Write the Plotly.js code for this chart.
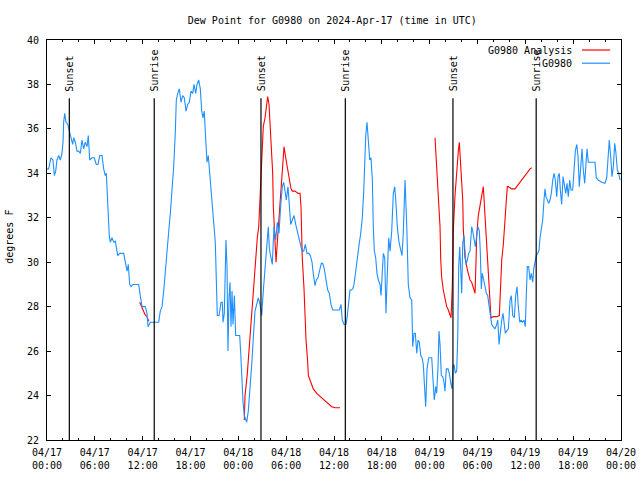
<!DOCTYPE html>
<html>
<head>
<meta charset="utf-8">
<script src="https://cdn.plot.ly/plotly-3.0.1.min.js"></script>
<style>html,body{margin:0;padding:0;background:#fff;}#chart{width:640px;height:480px;}</style>
</head>
<body>
<div id="chart"></div>
<script>
// Hours after 2024-04-17 00:00 UTC
const stationHours = [0.00,0.21,0.50,0.75,0.92,1.09,1.25,1.47,1.67,1.88,2.01,2.09,2.22,2.38,2.60,2.80,3.01,3.22,3.35,3.55,3.76,3.98,4.18,4.39,4.60,4.80,5.02,5.18,5.36,5.64,5.93,6.18,6.40,6.61,6.90,7.11,7.31,7.44,7.56,7.69,7.81,7.94,8.15,8.37,8.57,8.87,9.12,9.62,9.87,10.04,10.20,10.37,10.54,10.79,11.29,11.50,11.70,11.92,12.33,12.54,12.67,12.79,12.96,13.38,14.01,14.21,14.43,14.64,14.84,15.05,15.27,15.47,15.68,15.89,16.09,16.22,16.40,16.60,16.81,17.02,17.22,17.44,17.65,17.85,18.06,18.28,18.44,18.65,18.82,19.03,19.23,19.41,19.57,19.73,19.91,20.07,20.23,20.41,20.57,20.74,20.91,21.11,21.24,21.36,21.58,21.83,21.99,22.08,22.24,22.45,22.58,22.70,22.83,22.96,23.08,23.21,23.33,23.50,23.67,23.92,24.17,24.30,24.42,24.59,24.75,24.96,25.05,25.25,25.46,25.68,25.88,26.09,26.30,26.50,26.72,26.93,27.13,27.35,27.56,27.76,27.89,28.06,28.26,28.47,28.69,28.89,29.10,29.32,29.52,29.69,29.85,30.02,30.23,30.39,30.57,30.77,30.98,31.20,31.40,31.61,31.82,31.99,32.20,32.40,32.61,32.83,33.03,33.24,33.40,33.62,33.78,33.99,34.21,34.41,34.58,34.78,35.00,35.21,35.41,35.62,35.84,36.25,36.67,36.88,37.04,37.26,37.51,37.67,37.85,38.01,38.17,38.35,38.51,38.67,38.85,39.01,39.17,39.35,39.55,39.73,39.85,39.98,40.14,40.30,40.48,40.64,40.81,40.93,41.06,41.23,41.39,41.56,41.77,41.90,42.06,42.19,42.36,42.52,42.69,42.86,43.03,43.24,43.44,43.62,43.78,43.94,44.15,44.37,44.53,44.69,44.91,45.12,45.32,45.53,45.75,45.87,46.04,46.20,46.38,46.54,46.70,46.88,47.04,47.20,47.38,47.50,47.67,47.88,48.04,48.26,48.42,48.58,48.76,48.88,49.05,49.17,49.30,49.46,49.64,49.80,49.92,50.09,50.30,50.46,50.68,50.80,50.93,51.05,51.22,51.39,51.52,51.64,51.77,51.89,52.02,52.15,52.31,52.43,52.56,52.72,52.90,53.06,53.27,53.40,53.56,53.73,53.90,54.06,54.23,54.35,54.48,54.60,54.78,54.94,55.11,55.28,55.44,55.61,55.78,55.98,56.20,56.41,56.54,56.70,56.86,57.04,57.20,57.33,57.49,57.66,57.87,58.08,58.24,58.42,58.62,58.79,58.96,59.12,59.30,59.46,59.62,59.83,60.00,60.12,60.25,60.42,60.59,60.75,60.93,61.05,61.21,61.38,61.55,61.72,61.84,62.00,62.18,62.34,62.47,62.59,62.76,62.93,63.10,63.26,63.44,63.60,63.76,63.94,64.10,64.26,64.39,64.56,64.73,64.89,65.07,65.23,65.39,65.57,65.73,65.94,66.11,66.27,66.45,66.61,66.77,66.95,67.11,67.27,67.45,67.61,67.74,67.90,68.11,68.45,68.74,68.90,69.15,69.58,69.99,70.21,70.37,70.53,70.71,70.87,71.04,71.21,71.37,71.54,71.71,71.88];
const stationDewF = [34.2,34.2,34.7,34.6,33.9,34.1,34.6,34.8,34.6,34.9,35.4,36.3,36.7,36.3,36.2,35.9,35.6,35.3,35.6,35.4,35.0,35.0,34.9,35.5,35.1,35.4,35.2,35.7,34.6,34.7,34.7,34.4,34.4,34.8,34.8,34.2,33.9,34.0,33.1,31.9,31.2,30.9,31.1,30.9,30.95,30.3,30.4,30.4,29.8,29.6,29.9,29.0,28.9,29.0,29.0,29.0,28.5,28.0,28.0,27.7,27.1,27.2,27.3,27.3,27.3,27.8,28.0,28.7,29.7,30.6,31.4,32.2,33.2,34.3,35.8,37.3,37.6,37.8,37.2,37.5,37.4,36.8,37.1,37.2,37.7,37.6,38.0,37.6,38.0,38.2,37.8,36.8,36.5,36.8,35.5,34.5,34.8,34.0,33.3,32.7,32.0,30.9,29.2,27.6,27.6,28.2,28.2,27.3,27.7,31.0,29.8,26.0,28.4,29.1,27.1,28.7,27.2,28.5,26.7,26.7,26.7,25.9,24.6,23.7,23.1,22.8,22.8,23.3,24.2,25.4,26.6,27.8,28.1,28.4,28.1,27.6,28.7,29.6,30.7,31.6,30.6,30.3,29.9,31.6,31.0,31.8,31.3,32.6,33.4,33.6,33.1,32.8,33.4,32.5,31.7,31.9,32.1,31.7,31.4,31.1,30.8,30.5,30.5,30.8,30.4,30.4,30.3,30.0,29.5,28.95,29.2,29.3,29.65,29.95,29.95,29.7,29.2,28.75,28.6,28.1,27.85,27.85,27.85,28.1,27.4,27.2,27.2,27.6,28.2,28.75,28.75,28.8,29.0,29.5,29.95,30.4,30.85,31.3,32.0,33.2,34.5,35.7,36.3,35.6,34.6,34.7,33.7,31.6,30.5,30.2,29.5,29.2,29.0,28.5,29.5,30.4,30.2,27.7,29.5,31.1,30.5,31.4,33.1,33.4,32.6,31.6,30.9,30.6,30.3,31.3,33.7,31.7,29.0,28.4,28.3,26.2,26.8,26.8,25.9,26.5,26.4,25.8,25.7,25.4,24.5,23.5,25.2,25.7,25.7,25.7,24.7,23.8,24.4,24.1,25.3,26.9,26.3,24.9,24.85,24.6,24.2,25.2,25.2,25.0,24.5,24.3,25.3,25.4,25.0,25.1,26.6,29.8,30.7,29.8,28.6,30.85,31.2,30.5,29.9,30.1,30.4,30.5,31.6,31.4,31.0,30.7,31.2,31.6,31.4,30.5,28.8,29.5,29.2,28.9,28.6,28.5,28.0,27.5,27.2,27.1,27.0,27.2,27.4,26.3,27.0,27.4,27.7,27.1,26.8,26.9,27.0,28.3,28.5,27.6,27.5,28.5,28.9,28.0,27.3,27.4,27.3,27.4,27.1,28.5,29.8,29.8,29.2,29.5,29.1,29.7,30.1,30.3,30.4,30.55,31.1,31.5,31.9,32.8,33.3,32.95,32.8,32.65,32.8,33.1,33.7,34.0,33.7,32.95,33.85,34.0,33.25,32.6,33.85,33.55,33.1,33.55,32.95,33.7,33.25,33.25,34.3,35.0,35.3,34.75,33.4,34.45,35.1,34.15,33.55,34.45,35.1,34.5,34.5,34.5,34.5,33.8,33.7,33.6,33.55,33.8,34.9,35.5,34.75,33.85,34.3,35.35,34.9,34.15,34.0,33.7];

const analysisHours = [11.63,11.95,12.29,12.54,12.76,18.0,24.75,24.84,25.13,25.34,25.55,25.75,25.97,26.18,26.38,26.56,26.72,26.93,27.13,27.35,27.51,27.68,27.85,28.01,28.19,28.31,28.39,28.60,28.73,28.89,29.10,29.32,29.52,29.73,29.94,30.11,30.27,30.44,30.61,30.77,31.11,31.49,31.74,31.86,31.95,32.02,32.24,32.49,32.70,32.78,32.99,33.40,33.83,34.46,34.87,35.29,35.71,36.13,36.75,42.0,48.67,48.80,48.96,49.08,49.30,49.39,49.51,49.71,49.92,50.14,50.34,50.55,50.68,50.84,50.97,51.18,51.39,51.59,51.72,51.89,52.02,52.15,52.22,52.35,52.43,52.77,53.06,53.27,53.48,53.69,53.81,53.90,54.10,54.44,54.53,54.73,54.94,55.07,55.16,55.28,55.48,55.57,55.69,55.98,56.41,56.74,56.91,57.04,57.24,57.36,57.58,57.74,57.87,58.29,58.71,58.92,59.33,59.75,60.17,60.59,60.80];
const analysisDewF = [28.2,27.95,27.65,27.55,27.35,null,22.9,24.0,25.0,26.1,27.2,28.1,29.3,30.2,31.1,31.6,32.8,34.0,36.1,36.5,37.0,37.45,37.1,36.2,35.2,34.0,32.5,30.5,30.0,30.9,32.0,33.2,34.3,35.2,34.7,34.3,33.9,33.5,33.3,33.2,33.2,33.1,33.1,32.5,31.3,30.2,28.8,26.5,25.5,24.9,24.7,24.3,24.1,23.9,23.75,23.6,23.5,23.45,23.45,null,35.6,34.7,33.6,32.6,31.6,30.1,29.3,28.75,28.3,28.0,27.85,27.6,27.5,28.9,31.5,33.0,34.3,35.0,35.4,34.4,33.7,32.8,31.5,30.6,30.2,29.6,29.2,29.1,28.85,28.6,30.0,31.2,32.1,32.7,33.0,33.4,32.1,31.4,30.6,29.7,29.0,28.0,27.5,27.55,27.55,27.6,28.8,30.1,30.8,31.6,32.6,33.4,33.4,33.3,33.3,33.4,33.6,33.8,34.0,34.2,34.25];

const sunEventHours = [2.80,13.45,26.84,37.42,50.92,61.36];
const sunEventLabels = ["Sunset","Sunrise","Sunset","Sunrise","Sunset","Sunrise"];
const seriesNames = ["G0980 Analysis","G0980"];
const chartTitle = "Dew Point for G0980 on 2024-Apr-17 (time in UTC)";

const START = Date.UTC(2024,3,17,0,0,0);
function toTime(h){ return new Date(START + Math.round(h*3600000)).toISOString().replace('T',' ').slice(0,19); }

const RED = '#ff0000', BLUE = '#1e90ff';
const FONT = {family:'DejaVu Sans Mono, Liberation Mono, monospace', size:10, color:'#000'};

const traces = [
  {x: analysisHours.map(toTime), y: analysisDewF, type:'scatter', mode:'lines', name:seriesNames[0],
   line:{color:RED, width:1.1}, connectgaps:false, showlegend:false},
  {x: stationHours.map(toTime), y: stationDewF, type:'scatter', mode:'lines', name:seriesNames[1],
   line:{color:BLUE, width:1.1}, showlegend:false}
];

const shapes = [];
const annotations = [];
sunEventHours.forEach((h,i)=>{
  shapes.push({type:'line', xref:'x', yref:'y', x0:toTime(h), x1:toTime(h), y0:22, y1:37.38,
    line:{color:'#000', width:1.2}});
  annotations.push({xref:'x', yref:'y', x:toTime(h), y:37.6, text:sunEventLabels[i], textangle:-90,
    showarrow:false, xanchor:'center', yanchor:'bottom', font:FONT});
});
// gnuplot-style legend (text left, sample line right)
const legendY = [0.975, 0.942];
const legendColors = [RED, BLUE];
seriesNames.forEach((n,i)=>{
  annotations.push({xref:'paper', yref:'paper', x:0.918, y:legendY[i], text:n, showarrow:false,
    xanchor:'right', yanchor:'middle', font:FONT});
  shapes.push({type:'line', xref:'paper', yref:'paper', x0:0.932, x1:0.981, y0:legendY[i], y1:legendY[i],
    line:{color:legendColors[i], width:1.2}});
});
annotations.push({xref:'paper', yref:'paper', x:-0.0645, y:0.508, text:'degrees F', textangle:-90,
  showarrow:false, xanchor:'center', yanchor:'middle', font:FONT});

const layout = {
  width:640, height:480,
  margin:{l:47, r:19, t:40, b:40},
  paper_bgcolor:'#fff', plot_bgcolor:'#fff',
  font:FONT,
  title:{text:chartTitle, font:FONT, x:0.497, xref:'paper', y:1-20/480, yref:'container', yanchor:'middle'},
  showlegend:false,
  xaxis:{type:'date', range:[toTime(0), toTime(72)], tick0:toTime(0), dtick:6*3600000,
    tickformat:'%m/%d<br>%H:%M', ticks:'inside', ticklen:4, tickcolor:'#000', tickwidth:1,
    minor:{dtick:2*3600000, ticks:'inside', ticklen:2, tickcolor:'#000', showgrid:false},
    showline:true, linecolor:'#000', linewidth:1, mirror:'ticks', showgrid:false, zeroline:false,
    tickfont:FONT, automargin:false, fixedrange:true, ticklabelstandoff:3},
  yaxis:{range:[22,40], dtick:2, tick0:22, ticks:'inside', ticklen:4, tickcolor:'#000', tickwidth:1,
    showline:true, linecolor:'#000', linewidth:1, mirror:'ticks', showgrid:false, zeroline:false,
    tickfont:FONT, automargin:false, fixedrange:true, ticklabelstandoff:5},
  shapes:shapes, annotations:annotations
};
Plotly.newPlot('chart', traces, layout, {staticPlot:true, displayModeBar:false});
</script>
</body>
</html>
